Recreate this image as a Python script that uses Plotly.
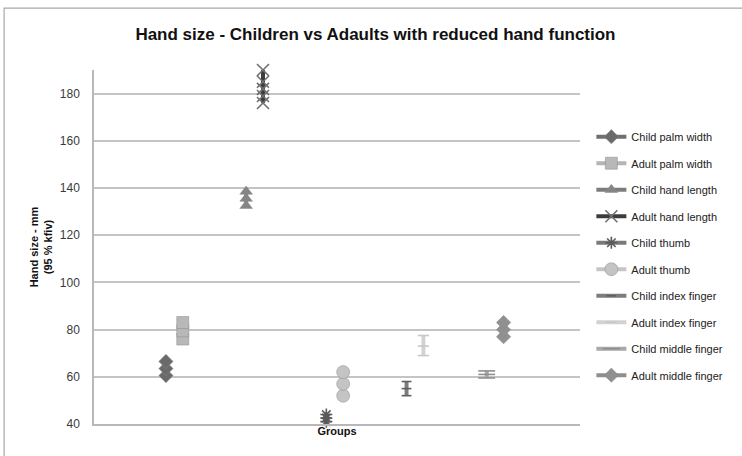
import plotly.graph_objects as go

# Hand-size measurements (mm): lower 95 % limit, mean, upper 95 % limit per series
series_names = [
    "Child palm width", "Adult palm width",
    "Child hand length", "Adult hand length",
    "Child thumb", "Adult thumb",
    "Child index finger", "Adult index finger",
    "Child middle finger", "Adult middle finger",
]
child_palm_width = [60.5, 63.5, 66.5]
adult_palm_width = [76, 79.5, 83]
child_hand_length = [132.5, 135.5, 138.5]
adult_hand_length = [176, 179, 182, 185, 190]
child_thumb = [41, 42.5, 44]
adult_thumb = [52, 57, 62]
child_index_finger = [52, 55, 58]
adult_index_finger = [69, 73, 77.5]
child_middle_finger = [59.5, 61, 62.5]
adult_middle_finger = [77, 80, 83]

series_values = [
    child_palm_width, adult_palm_width,
    child_hand_length, adult_hand_length,
    child_thumb, adult_thumb,
    child_index_finger, adult_index_finger,
    child_middle_finger, adult_middle_finger,
]

y_ticks = [40, 60, 80, 100, 120, 140, 160, 180]

# styling per series: (line colour, marker symbol, marker colour, marker size)
styles = [
    ("#6f6f6f", "diamond", "#6a6a6a", 11),
    ("#b5b5b5", "square", "#b8b8b8", 12),
    ("#7c7c7c", "triangle-up", "#858585", 11),
    ("#3c3c3c", "x-thin-open", "#707070", 12),
    ("#7a7a7a", "asterisk-open", "#5a5a5a", 10),
    ("#c6c6c6", "circle", "#c4c4c4", 13),
    ("#7d7d7d", "line-ew-open", "#5f5f5f", 7),
    ("#d2d2d2", "line-ew-open", "#c8c8c8", 8),
    ("#a9a9a9", "line-ew-open", "#8f8f8f", 12),
    ("#8e8e8e", "diamond", "#909090", 11),
]

fig = go.Figure()
for i, (name, vals) in enumerate(zip(series_names, series_values)):
    lc, sym, mc, ms = styles[i]
    group = i // 2 + 1
    xpos = group + (0.21 if i % 2 else 0.0)
    is_open = sym.endswith("-open")
    fig.add_trace(go.Scatter(
        x=[xpos] * len(vals), y=vals, name=name, mode="lines+markers",
        legendgroup=name, cliponaxis=False,
        line=dict(color=lc, width=4),
        marker=dict(symbol=sym, size=ms, color=mc,
                    line=dict(color=mc if is_open else "#8a8a8a",
                              width=1.6 if is_open else 0.5)),
        hoverinfo="y+name",
    ))

fig.update_layout(
    width=742, height=456,
    margin=dict(l=94, r=162, t=70, b=32),
    paper_bgcolor="white", plot_bgcolor="white",
    title=dict(
        text="<b>Hand size - Children vs Adaults with reduced hand function</b>",
        x=0.506, xanchor="center", y=0.925, yanchor="middle",
        font=dict(family="Liberation Sans, Arial, sans-serif",
                  size=17, color="#111111"),
    ),
    font=dict(family="Liberation Sans, Arial, sans-serif", color="#333333"),
    showlegend=True,
    legend=dict(
        xref="container", yref="container",
        x=0.797, y=0.732, xanchor="left", yanchor="top",
        maxheight=400,
        font=dict(size=11, color="#222222"),
        tracegroupgap=7.5, itemwidth=30,
        bgcolor="rgba(0,0,0,0)",
    ),
    xaxis=dict(
        range=[0.103, 6.163], showticklabels=False, ticks="",
        showgrid=False, zeroline=False,
        showline=True, linecolor="#b8b8b8", linewidth=1.5,
        title=dict(text="<b>Groups</b>", standoff=3,
                   font=dict(size=11, color="#111111")),
    ),
    yaxis=dict(
        range=[40, 190], tickvals=y_ticks, ticks="",
        ticklabelstandoff=10,
        tickfont=dict(size=12, color="#3a3a3a"),
        showgrid=True, gridcolor="#c4c4c4", gridwidth=1.5,
        zeroline=False,
        showline=True, linecolor="#b8b8b8", linewidth=1.5,
        title=dict(text="<b>Hand size - mm<br>(95 % kfiv)</b>", standoff=5,
                   font=dict(size=11, color="#111111")),
    ),
    shapes=[dict(type="rect", xref="paper", yref="paper",
                 x0=-0.185, x1=1.6, y0=-0.2, y1=1.175,
                 line=dict(color="#a8a8a8", width=1.2), layer="below")],
)

fig.write_html("out.html")
